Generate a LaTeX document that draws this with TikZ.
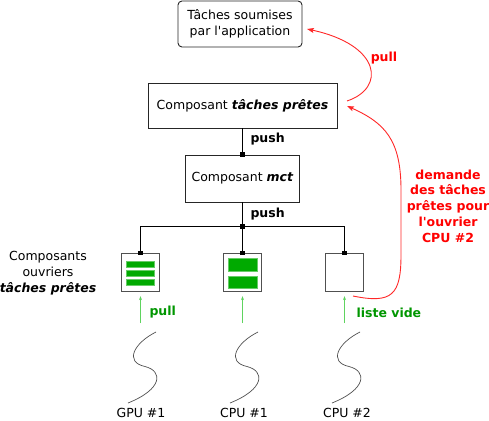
\documentclass[tikz,border=0pt]{standalone}
\usepackage{fontspec}
\setmainfont{DejaVu Sans}
\usetikzlibrary{arrows.meta,calc}
\definecolor{bargreen}{RGB}{0,170,0}
\definecolor{arrgreen}{RGB}{95,211,95}
\definecolor{txtgreen}{RGB}{0,150,0}
\definecolor{redline}{RGB}{255,40,40}
\definecolor{boxgray}{RGB}{80,80,80}
\tikzset{
  base/.style={font=\fontsize{12.5}{15.8}\selectfont},
  compbox/.style={base, draw=black!85, line width=0.9pt, inner sep=0pt, align=center},
  workbox/.style={draw=boxgray, line width=1.3pt, minimum width=38pt, minimum height=38pt, inner sep=0pt, fill=white},
  bar/.style={fill=bargreen, draw=bargreen!60, line width=0.4pt},
  sq/.style={-{Square[length=4.5pt,width=4.5pt]}, shorten >=-2.2pt, line width=0.9pt, black},
  link/.style={line width=0.9pt, black},
  greenarr/.style={arrgreen, line width=0.9pt, -{Stealth[length=4pt,width=3pt]}},
  redarr/.style={redline, line width=0.9pt, -{Stealth[length=7pt,width=5pt,inset=1.5pt]}},
  lblb/.style={base, font=\fontsize{12.5}{15.8}\selectfont\bfseries},
  squig/.style={boxgray, line width=0.7pt},
  cpu/.style={base, inner sep=1pt},
}
\begin{document}
\begin{tikzpicture}[x=1pt,y=-1pt]
\useasboundingbox (0,0) rectangle (489,420);
% top box
\node[compbox, rounded corners=4pt, minimum width=124pt, minimum height=46pt] (app) at (240,24) {Tâches soumises\\par l\textquotesingle application};
\node[compbox, minimum width=189pt, minimum height=45pt] (ready) at (242.5,105.5) {Composant \textbf{\textit{tâches prêtes}}};
\node[compbox, minimum width=114pt, minimum height=47pt] (mct) at (242.5,178.5) {Composant \textbf{\textit{mct}}};
% workers
\node[workbox] (w1) at (140.5,272.5) {};
\node[workbox] (w2) at (242.5,272.5) {};
\node[workbox] (w3) at (344.5,272.5) {};
% bars
\fill[bar] (125.8,261) rectangle (154.5,267.2);
\fill[bar] (125.8,270.2) rectangle (154.5,276.4);
\fill[bar] (125.8,279.4) rectangle (154.5,285.6);
\fill[bar] (228,258.5) rectangle (257,271);
\fill[bar] (228,276) rectangle (257,288.5);
% connectors
\coordinate (bus) at (242.5,226.5);
\draw[sq] (ready.south) -- (mct.north);
\draw[sq] (mct.south) -- (bus);
\draw[link] (bus) -| (w1.north);
\draw[link] (bus) -| (w3.north);
\draw[sq] (bus) -- (w2.north);
\draw[sq] ($(w1.north)+(0,-1)$) -- (w1.north);
\draw[sq] ($(w3.north)+(0,-1)$) -- (w3.north);
\node[lblb, anchor=west] (p1) at (247,139) {push};
\node[lblb, anchor=west] (p2) at (247,214) {push};
% left label
\node[base, align=center] (lbl) at (48,273) {Composants\\ouvriers\\\textbf{\textit{tâches prêtes}}};
% green arrows
\foreach \w/\x in {1/140.5,2/242.5,3/344.5}{
  \coordinate (g\w) at (\x,323);
}
\draw[greenarr] (g1) -- ($(w1.south)+(0,4)$);
\draw[greenarr] (g2) -- ($(w2.south)+(0,4)$);
\draw[greenarr] (g3) -- ($(w3.south)+(0,4)$);
\node[lblb, text=txtgreen, anchor=west] (gp) at (146,312) {pull};
\node[lblb, text=txtgreen, anchor=west] (gl) at (353,313) {liste vide};
% squiggles
\foreach \dx/\n in {0/1,102/2,204/3}{
  \draw[squig] (156+\dx,332) .. controls (134+\dx,343) and (124+\dx,362) .. (145+\dx,366.5)
    .. controls (163+\dx,371) and (163+\dx,389) .. (128+\dx,403);
}
\node[cpu] (c1) at (141,413) {GPU \#1};
\node[cpu] (c2) at (244,413) {CPU \#1};
\node[cpu] (c3) at (347,413) {CPU \#2};
% red arrows
\coordinate (r1s) at (347,101);
\coordinate (r1e) at (307,29);
\draw[redarr] (r1s) .. controls (386,88) and (381,45) .. (r1e);
\node[lblb, text=red, anchor=center] (rp) at (384,58) {pull};
\coordinate (r2s) at (353,296);
\coordinate (r2e) at (347,106);
\draw[redarr] (r2s) .. controls (392,304) and (401,295) .. (401,255)
  -- (401,190) .. controls (401,140) and (385,123) .. (r2e);
\node[lblb, text=red, align=center] (rd) at (448,206) {demande\\des tâches\\prêtes pour\\l\textquotesingle ouvrier\\CPU \#2};
\end{tikzpicture}
\end{document}
